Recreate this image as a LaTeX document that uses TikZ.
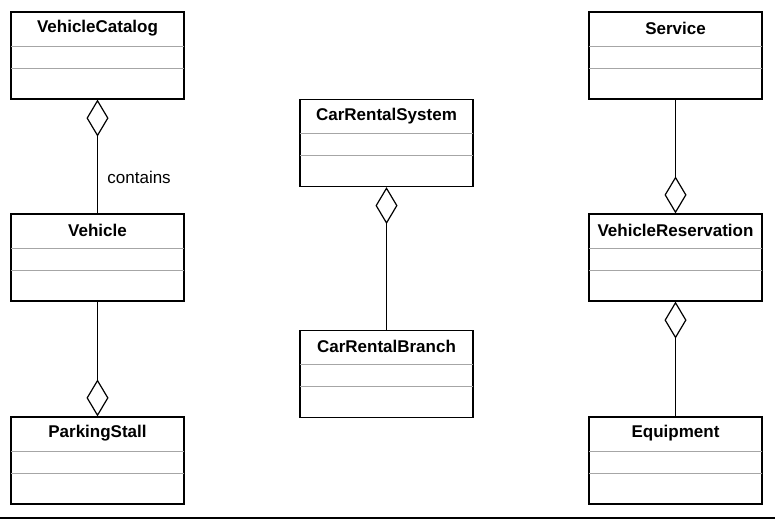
\documentclass[tikz,border=0pt]{standalone}
\usepackage{fontspec}
\setmainfont{Liberation Sans}
\usetikzlibrary{arrows.meta}

\begin{document}
\begin{tikzpicture}[x=1pt,y=-1pt,
	classbox/.style={draw,line width=1.2pt,minimum width=173pt,minimum height=87pt,inner sep=0pt},
	classname/.style={font=\bfseries\fontsize{17}{20}\selectfont,inner sep=0pt},
	sep/.style={line width=1pt,black!35},
	agg/.style={line width=1.2pt},
	aggtip/.tip={Diamond[open,length=37pt,width=22pt,line width=1.2pt]}]
\useasboundingbox(0,0)rectangle(775,519);
\foreach\n/\x/\y/\t in{
	catalog/97.5/55.5/VehicleCatalog,
	vehicle/97.5/257.5/Vehicle,
	stall/97.5/460.5/ParkingStall,
	system/386.5/143/CarRentalSystem,
	branch/386.5/374/CarRentalBranch,
	service/675.5/55.5/Service,
	reservation/675.5/257.5/VehicleReservation,
	equipment/675.5/460.5/Equipment}{
\node[classbox](\n)at(\x,\y){};
\node[classname](\n-name)at([yshift=-17pt]\n.north){\t};
\foreach\d in{35,57}\draw[sep]([xshift=1pt,yshift=-\d pt]\n.north west)--([xshift=-1pt,yshift=-\d pt]\n.north east);};
\draw[agg,aggtip-](catalog)--(vehicle)node[pos=.68,anchor=west,xshift=6pt,font=\fontsize{17}{20}\selectfont](contains){contains};
\draw[agg,-aggtip](vehicle)--(stall);
\draw[agg,aggtip-](system)--(branch);
\draw[agg,-aggtip](service)--(reservation);
\draw[agg,aggtip-](reservation)--(equipment);
\draw[line width=1.2pt](0,518)--(775,518);
\end{tikzpicture}
\end{document}
